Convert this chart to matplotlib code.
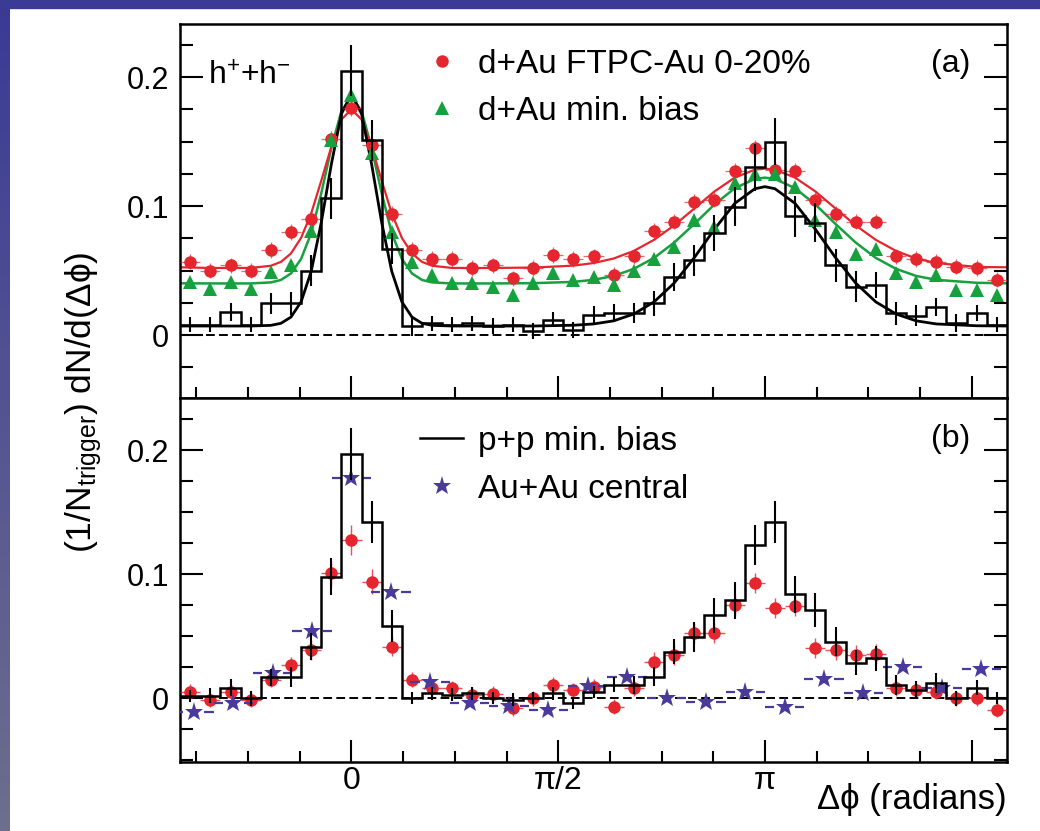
import numpy as np
import matplotlib
matplotlib.use('Agg')
import matplotlib.pyplot as plt
from matplotlib.colors import LinearSegmentedColormap
from matplotlib.lines import Line2D
from matplotlib.patches import Rectangle
from matplotlib.ticker import MultipleLocator, FixedLocator

plt.rcParams['font.family'] = ['Liberation Sans', 'DejaVu Sans']
plt.rcParams['mathtext.fontset'] = 'custom'
plt.rcParams['mathtext.rm'] = 'Liberation Sans'
plt.rcParams['mathtext.it'] = 'Liberation Sans'
plt.rcParams['mathtext.bf'] = 'Liberation Sans:bold'

# ---- data ----
# 41 bins over 2pi (bin centres, rad)
phi = [-1.226, -1.073, -0.919, -0.766, -0.613, -0.460, -0.306, -0.153, 0.0,
       0.153, 0.306, 0.460, 0.613, 0.766, 0.919, 1.073, 1.226, 1.379, 1.532,
       1.686, 1.839, 1.992, 2.145, 2.299, 2.452, 2.605, 2.758, 2.912, 3.065,
       3.218, 3.371, 3.525, 3.678, 3.831, 3.984, 4.138, 4.291, 4.444, 4.597,
       4.751, 4.904]
bin_w = 0.1532
phi_range = (-1.303, 4.981)

# (a) d+Au FTPC-Au 0-20%
dau_cent = [0.057, 0.050, 0.054, 0.050, 0.066, 0.080, 0.090, 0.152, 0.176,
            0.147, 0.094, 0.066, 0.059, 0.059, 0.052, 0.054, 0.044, 0.052,
            0.062, 0.059, 0.061, 0.0465, 0.061, 0.081, 0.088, 0.103, 0.105,
            0.127, 0.145, 0.128, 0.127, 0.105, 0.094, 0.088, 0.088, 0.061,
            0.059, 0.057, 0.053, 0.052, 0.043]
# (a) d+Au min. bias
dau_mb = [0.041, 0.036, 0.041, 0.036, 0.049, 0.054, 0.081, 0.151, 0.186,
          0.141, 0.080, 0.057, 0.0465, 0.040, 0.040, 0.0375, 0.031, 0.040,
          0.048, 0.043, 0.045, 0.039, 0.050, 0.059, 0.0685, 0.089, 0.084,
          0.1176, 0.125, 0.125, 0.115, 0.089, 0.080, 0.063, 0.067, 0.048,
          0.041, 0.0465, 0.035, 0.035, 0.031]
# (a) p+p histogram
pp_a = [0.008, 0.008, 0.018, 0.008, 0.0245, 0.0245, 0.050, 0.106, 0.205,
        0.151, 0.067, 0.007, 0.009, 0.008, 0.009, 0.007, 0.008, 0.003, 0.012,
        0.004, 0.0155, 0.017, 0.017, 0.0245, 0.045, 0.058, 0.079, 0.0995,
        0.130, 0.150, 0.092, 0.087, 0.054, 0.0375, 0.039, 0.017, 0.015,
        0.022, 0.009, 0.017, 0.008]
pp_a_err = [0.006, 0.006, 0.007, 0.006, 0.008, 0.009, 0.012, 0.016, 0.020,
            0.016, 0.012, 0.008, 0.006, 0.006, 0.006, 0.006, 0.006, 0.006,
            0.006, 0.006, 0.007, 0.007, 0.008, 0.010, 0.011, 0.012, 0.014,
            0.015, 0.018, 0.018, 0.016, 0.015, 0.013, 0.012, 0.010, 0.009,
            0.008, 0.007, 0.007, 0.006, 0.006]

# fit curves of panel (a)
fit_phi = [-1.303, -1.073, -0.766, -0.613, -0.536, -0.460, -0.383, -0.306,
           -0.230, -0.153, -0.077, 0.0, 0.077, 0.153, 0.230, 0.306, 0.383,
           0.460, 0.536, 0.613, 0.766, 1.073, 1.379, 1.686, 1.839, 1.992,
           2.145, 2.299, 2.452, 2.605, 2.758, 2.912, 3.065, 3.142, 3.218,
           3.371, 3.525, 3.678, 3.831, 3.984, 4.138, 4.291, 4.444, 4.751, 4.981]
fit_pp = [0.007, 0.007, 0.007, 0.0075, 0.0091, 0.0139, 0.0257, 0.0494, 0.087,
          0.1324, 0.1713, 0.187, 0.1713, 0.1324, 0.087, 0.0494, 0.0257, 0.0139,
          0.0091, 0.0075, 0.007, 0.007, 0.007, 0.0076, 0.0086, 0.011, 0.0163,
          0.0257, 0.0403, 0.060, 0.082, 0.102, 0.1134, 0.115, 0.1134, 0.102,
          0.082, 0.060, 0.0403, 0.0257, 0.0163, 0.011, 0.0086, 0.0072, 0.007]
fit_cent = [0.0525, 0.052, 0.052, 0.0537, 0.0567, 0.0632, 0.0753, 0.0943,
            0.1195, 0.146, 0.167, 0.175, 0.167, 0.146, 0.1195, 0.0943, 0.0753,
            0.0632, 0.0567, 0.0537, 0.052, 0.052, 0.0523, 0.0538, 0.0558,
            0.0593, 0.0652, 0.0738, 0.085, 0.0981, 0.1113, 0.122, 0.1282, 0.129,
            0.1282, 0.122, 0.1113, 0.0981, 0.085, 0.0738, 0.0652, 0.0593,
            0.0558, 0.0528, 0.0525]
fit_mb = [0.0401, 0.040, 0.040, 0.0408, 0.0427, 0.0477, 0.059, 0.079, 0.1097,
          0.145, 0.1736, 0.185, 0.1736, 0.145, 0.1097, 0.079, 0.059, 0.0477,
          0.0427, 0.0408, 0.040, 0.040, 0.0402, 0.0412, 0.0428, 0.0458, 0.0513,
          0.0598, 0.0717, 0.0861, 0.1012, 0.1138, 0.121, 0.122, 0.121, 0.1138,
          0.1012, 0.0861, 0.0717, 0.0598, 0.0513, 0.0458, 0.0428, 0.0405,
          0.0401]

# (b) p+p histogram
pp_b = [0.002, 0.002, 0.0085, 0.0, 0.017, 0.017, 0.0417, 0.098, 0.197, 0.142,
        0.0586, 0.0, 0.004, 0.003, 0.004, 0.0, -0.001, 0.0, 0.004, -0.004,
        0.005, 0.0108, 0.0108, 0.0175, 0.0376, 0.0497, 0.067, 0.079, 0.1237,
        0.142, 0.084, 0.0712, 0.0457, 0.0288, 0.0323, 0.0108, 0.0067, 0.0126,
        0.0, 0.0086, 0.0]
pp_b_err = [0.005, 0.006, 0.007, 0.006, 0.007, 0.008, 0.011, 0.015, 0.021,
            0.017, 0.013, 0.005, 0.005, 0.005, 0.005, 0.005, 0.005, 0.005,
            0.005, 0.005, 0.005, 0.006, 0.007, 0.008, 0.010, 0.012, 0.014,
            0.015, 0.016, 0.017, 0.015, 0.014, 0.012, 0.010, 0.010, 0.008,
            0.007, 0.008, 0.006, 0.006, 0.005]
# (b) d+Au FTPC-Au 0-20% (background subtracted)
dau_b = [0.0054, -0.0013, 0.0054, -0.0013, 0.0148, 0.0269, 0.039, 0.1008,
         0.1277, 0.094, 0.0417, 0.0148, 0.008, 0.008, 0.0027, 0.0035, -0.008,
         0.0, 0.0108, 0.0067, 0.0094, -0.0067, 0.008, 0.0296, 0.035, 0.0524,
         0.0524, 0.0753, 0.0933, 0.0726, 0.0745, 0.0403, 0.039, 0.035, 0.0358,
         0.008, 0.0067, 0.0054, 0.0, 0.0, -0.0094]
dau_b_err = [0.006, 0.006, 0.006, 0.006, 0.006, 0.006, 0.008, 0.010, 0.012,
             0.010, 0.008, 0.006, 0.006, 0.006, 0.006, 0.006, 0.006, 0.006,
             0.006, 0.006, 0.006, 0.006, 0.006, 0.008, 0.008, 0.008, 0.008,
             0.008, 0.008, 0.008, 0.008, 0.008, 0.008, 0.008, 0.008, 0.006,
             0.006, 0.006, 0.006, 0.006, 0.006]

# (b) Au+Au central, 21 bins over 2pi
phi_auau = [-1.197, -0.898, -0.598, -0.299, 0.0, 0.299, 0.598, 0.898, 1.197,
            1.496, 1.795, 2.094, 2.394, 2.693, 2.992, 3.291, 3.590, 3.890,
            4.189, 4.488, 4.787]
auau_w = 0.2992
auau = [-0.0108, -0.0035, 0.0207, 0.0546, 0.1774, 0.0855, 0.0134, -0.004,
        -0.0062, -0.0094, 0.010, 0.0175, 0.0, -0.0027, 0.0054, -0.0067, 0.0153,
        0.004, 0.025, 0.0086, 0.0234]

# ---- styling ----
RED = '#e5262e'
GREEN = '#16a03e'
STAR = '#4a3a9c'
FS = 23
LEG_FS = 24

fig = plt.figure(figsize=(10.4, 8.31), dpi=100)
fig.patch.set_facecolor('white')

# blue frame of the slide
bg = fig.add_axes([0, 0, 10 / 1040, 1])
cmap = LinearSegmentedColormap.from_list('slide', ['#3a3a96', '#6e6e8e'])
bg.imshow(np.linspace(0, 1, 200).reshape(-1, 1), aspect='auto', cmap=cmap)
bg.axis('off')
fig.add_artist(Rectangle((0, 1 - 8 / 831), 1, 8 / 831,
                         transform=fig.transFigure, color='#3b3b96'))

left = 180 / 1040
width = 827 / 1040
ax_a = fig.add_axes([left, 1 - 398 / 831, width, 374 / 831])
ax_b = fig.add_axes([left, 1 - 762 / 831, width, 364 / 831])

edges = np.append(np.array(phi) - bin_w / 2, phi[-1] + bin_w / 2)


def frame(ax, ylim):
    ax.set_xlim(*phi_range)
    ax.set_ylim(*ylim)
    ax.set_xticks([0, np.pi / 2, np.pi, 1.5 * np.pi])
    ax.xaxis.set_minor_locator(MultipleLocator(np.pi / 8))
    ax.yaxis.set_major_locator(FixedLocator([0, 0.1, 0.2]))
    ax.yaxis.set_minor_locator(MultipleLocator(0.025))
    ax.set_yticklabels(['0', '0.1', '0.2'])
    ax.tick_params(which='both', direction='in', top=False, right=True,
                   width=1.5, labelsize=22)
    ax.tick_params(axis='y', which='major', length=16.5, pad=8)
    ax.tick_params(axis='y', which='minor', length=9.5)
    ax.tick_params(axis='x', which='major', length=16, pad=3, labelsize=23)
    ax.tick_params(axis='x', which='minor', length=8)
    for s in ax.spines.values():
        s.set_linewidth(1.8)
    ax.axhline(0, color='k', ls=(0, (4.5, 2.2)), lw=1.4, zorder=1)


frame(ax_a, (-0.0488, 0.2411))
frame(ax_b, (-0.0514, 0.2422))
ax_a.tick_params(labelbottom=False)
ax_b.set_xticklabels(['0', 'π/2', 'π', ''])

# panel (a)
ax_a.plot(fit_phi, fit_mb, color=GREEN, lw=1.8, zorder=2)
ax_a.plot(fit_phi, fit_cent, color=RED, lw=1.6, zorder=2)
ax_a.plot(fit_phi, fit_pp, color='k', lw=2.0, zorder=2)
ax_a.errorbar(phi, dau_cent, xerr=bin_w / 2, yerr=0.006, fmt='none',
              ecolor=RED, elinewidth=0.9, alpha=0.7, zorder=3)
h_cent, = ax_a.plot(phi, dau_cent, 'o', color=RED, ms=9, mew=0, zorder=4,
                    label='d+Au FTPC-Au 0-20%')
h_mb, = ax_a.plot(phi, dau_mb, '^', color=GREEN, ms=10.5, mew=0, zorder=4,
                  label='d+Au min. bias')
ax_a.stairs(pp_a, edges, baseline=None, color='k', lw=1.8, zorder=5)
ax_a.errorbar(phi, pp_a, yerr=pp_a_err, fmt='none', ecolor='k',
              elinewidth=1.5, zorder=5)
ax_a.legend(handles=[h_cent, h_mb], loc='upper left',
            bbox_to_anchor=(0.2902, 0.934), frameon=False, fontsize=LEG_FS,
            handlelength=1.3, handletextpad=0.43, labelspacing=0.48,
            borderpad=0, borderaxespad=0, numpoints=1)

# panel (b)
ax_b.errorbar(phi, dau_b, xerr=bin_w / 2, yerr=dau_b_err, fmt='none',
              ecolor=RED, elinewidth=1.0, alpha=0.8, zorder=3)
ax_b.plot(phi, dau_b, 'o', color=RED, ms=9, mew=0, zorder=4)
gap = 0.08
ax_b.hlines(auau, np.array(phi_auau) - auau_w / 2, np.array(phi_auau) - gap,
            color=STAR, lw=1.6, zorder=4)
ax_b.hlines(auau, np.array(phi_auau) + gap, np.array(phi_auau) + auau_w / 2,
            color=STAR, lw=1.6, zorder=4)
h_auau, = ax_b.plot(phi_auau, auau, '*', color=STAR, ms=14, mew=0, zorder=4,
                    label='Au+Au central')
ax_b.stairs(pp_b, edges, baseline=None, color='k', lw=1.8, zorder=5)
ax_b.errorbar(phi, pp_b, yerr=pp_b_err, fmt='none', ecolor='k',
              elinewidth=1.5, zorder=5)
h_pp = Line2D([], [], color='k', lw=1.8, label='p+p min. bias')
ax_b.legend(handles=[h_pp, h_auau], loc='upper left',
            bbox_to_anchor=(0.2902, 0.9235), frameon=False, fontsize=LEG_FS,
            handlelength=1.3, handletextpad=0.43, labelspacing=0.5,
            borderpad=0, borderaxespad=0, numpoints=1)

# labels
fig.text(208 / 1040, 1 - 85 / 831, 'h$^{+}$+h$^{-}$', fontsize=FS,
         va='baseline', ha='left')
fig.text(951 / 1040, 1 - 64 / 831, '(a)', fontsize=FS, ha='center', va='center')
fig.text(951 / 1040, 1 - 439 / 831, '(b)', fontsize=FS, ha='center', va='center')
fig.text(84 / 1040, 1 - 402 / 831, '(1/N$_{\\rm trigger}$) dN/d(Δϕ)',
         rotation=90, ha='center', va='center', fontsize=25.5)
fig.text(1007 / 1040, 1 - 800 / 831, 'Δϕ (radians)', ha='right', va='center',
         fontsize=25)

fig.savefig('out.png', dpi=100)
